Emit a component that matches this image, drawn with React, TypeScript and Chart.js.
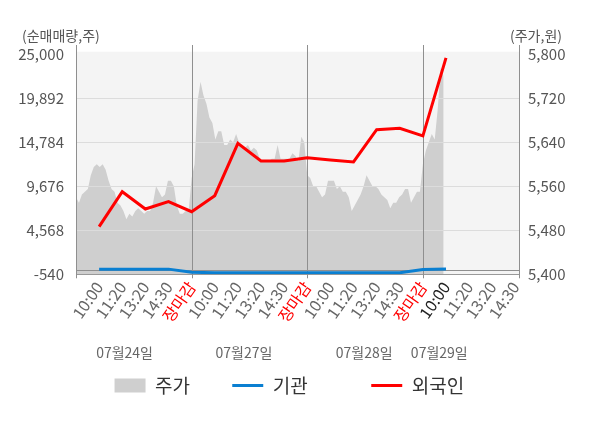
import React, { useEffect, useRef } from 'react';
import { Chart, registerables } from 'chart.js';

Chart.register(...registerables);

const FONT = '"Noto Sans CJK KR", "Noto Sans", sans-serif';

// x-axis tick labels (one per tick, 5 per trading day)
const xTickLabels = [
  '10:00', '11:20', '13:20', '14:30', '장마감',
  '10:00', '11:20', '13:20', '14:30', '장마감',
  '10:00', '11:20', '13:20', '14:30', '장마감',
  '10:00', '11:20', '13:20', '14:30',
];
const dateLabels = ['07월24일', '07월27일', '07월28일', '07월29일'];
const leftTicks = [-540, 4568, 9676, 14784, 19892, 25000];
const rightTicks = [5400, 5480, 5560, 5640, 5720, 5800];

// 주가 (price, intraday samples per day)
const priceDay1 = [5540, 5530, 5545, 5550, 5555, 5580, 5595, 5600, 5595, 5600, 5590, 5570, 5555, 5550, 5530, 5525, 5515, 5500, 5510, 5505, 5515, 5520, 5515, 5510, 5515, 5515, 5530, 5560, 5550, 5540, 5545, 5570, 5570, 5560, 5525, 5510, 5510, 5515, 5515];
const priceDay2 = [5575, 5600, 5715, 5750, 5725, 5710, 5685, 5675, 5645, 5660, 5660, 5635, 5635, 5645, 5640, 5655, 5640, 5630, 5630, 5635, 5625, 5630, 5625, 5610, 5605, 5605, 5605, 5610, 5610, 5635, 5610, 5610, 5610, 5610, 5620, 5615, 5605, 5650, 5640];
const priceDay3 = [5580, 5575, 5560, 5560, 5550, 5540, 5545, 5570, 5570, 5570, 5555, 5560, 5550, 5550, 5540, 5515, 5525, 5535, 5545, 5560, 5580, 5570, 5560, 5560, 5555, 5545, 5540, 5535, 5520, 5530, 5530, 5540, 5545, 5555, 5555, 5530, 5540, 5550, 5550];
const priceDay4 = [5600, 5625, 5640, 5655, 5645, 5700, 5775, 5760];

// 기관 / 외국인 cumulative net buying, one value per tick (10:00 day1 .. 10:00 day4)
const institution = [60, 60, 60, 60, -310, -350, -350, -350, -350, -350, -350, -350, -350, -350, 30, 70];
const foreign = [4990, 9050, 7040, 7890, 6730, 8590, 14670, 12610, 12610, 13000, 12730, 12510, 16250, 16410, 15530, 24580];

const SAMPLES_PER_DAY = 39;
const TICKS_PER_DAY = 5;
const DATE_ANCHORS = [2.1, 7.26, 12.46, 15.71];
const LEGEND_PAD = [' ', '      ', '     '];

const GRAY = '#cfcfcf';
const BLUE = '#0a7fd1';
const RED = '#ff0000';

const decor = {
  id: 'decor',
  beforeDatasetsDraw(chart: any) {
    const { ctx, chartArea: a } = chart;
    ctx.save();
    ctx.fillStyle = '#f4f4f4';
    ctx.fillRect(a.left, a.top - 2.6, a.right - a.left, a.bottom - a.top + 2.6);
    ctx.restore();
  },
  afterDatasetDraw(chart: any, args: any) {
    if (args.index !== 0) return;
    const { ctx, chartArea: a, scales } = chart;
    const ys = scales.y;
    const xs = scales.x;
    ctx.save();
    ctx.lineWidth = 1;
    const hline = (v: number, color: string) => {
      const py = Math.round(ys.getPixelForValue(v)) + 0.5;
      ctx.strokeStyle = color;
      ctx.beginPath();
      ctx.moveTo(a.left, py);
      ctx.lineTo(a.right, py);
      ctx.stroke();
    };
    leftTicks.slice(1, -1).forEach((v) => hline(v, '#dcdcdc'));
    hline(0, '#8f8f8f');
    hline(leftTicks[0], '#999999');
    const vline = (px: number) => {
      const p = Math.round(px) + 0.5;
      ctx.strokeStyle = '#8f8f8f';
      ctx.beginPath();
      ctx.moveTo(p, a.top - 9.3);
      ctx.lineTo(p, a.bottom + 4);
      ctx.stroke();
    };
    vline(a.left);
    vline(a.right - 1);
    [1, 2, 3].forEach((d) => vline(xs.getPixelForValue(d * TICKS_PER_DAY)));
    ctx.restore();
  },
  afterDraw(chart: any) {
    const { ctx, scales } = chart;
    ctx.save();
    ctx.fillStyle = '#555555';
    ctx.font = `14px ${FONT}`;
    ctx.textBaseline = 'middle';
    ctx.textAlign = 'left';
    ctx.fillText('(순매매량,주)', 22, 36);
    ctx.textAlign = 'right';
    ctx.fillText('(주가,원)', 562, 36);
    ctx.font = `14px ${FONT}`;
    ctx.fillStyle = '#666666';
    ctx.textAlign = 'center';
    dateLabels.forEach((t, i) => {
      ctx.fillText(t, scales.x.getPixelForValue(DATE_ANCHORS[i]), 353);
    });
    ctx.restore();
  },
};

export default function App() {
  const ref = useRef<HTMLCanvasElement>(null);
  useEffect(() => {
    document.body.style.margin = '0';
    const days = [priceDay1, priceDay2, priceDay3, priceDay4];
    const priceData: { x: number; y: number }[] = [];
    days.forEach((arr, d) => {
      arr.forEach((v, i) => {
        priceData.push({ x: d * TICKS_PER_DAY + (i * TICKS_PER_DAY) / SAMPLES_PER_DAY, y: v });
      });
    });
    const instData = institution.map((v, i) => ({ x: i + 1, y: v }));
    const forData = foreign.map((v, i) => ({ x: i + 1, y: v }));

    const chart = new Chart(ref.current as HTMLCanvasElement, {
      type: 'line',
      data: {
        datasets: [
          {
            label: '주가',
            data: priceData,
            yAxisID: 'y1',
            borderWidth: 0,
            backgroundColor: GRAY,
            borderColor: GRAY,
            fill: 'start',
            pointRadius: 0,
            order: 3,
          },
          {
            label: '기관',
            data: instData,
            yAxisID: 'y',
            borderWidth: 3,
            borderColor: BLUE,
            backgroundColor: BLUE,
            pointRadius: 0,
            fill: false,
            order: 2,
          },
          {
            label: '외국인',
            data: forData,
            yAxisID: 'y',
            borderWidth: 3,
            borderColor: RED,
            backgroundColor: RED,
            pointRadius: 0,
            fill: false,
            order: 1,
          },
        ],
      },
      options: {
        animation: false,
        responsive: false,
        events: [],
        layout: { padding: { top: 54.3, bottom: 23, left: 0, right: 0 } },
        scales: {
          x: {
            type: 'linear',
            min: 0,
            max: 19.2,
            grid: { display: false, drawTicks: false },
            border: { display: false },
            afterBuildTicks: (s: any) => {
              s.ticks = xTickLabels.map((_, i) => ({ value: i + 1 }));
            },
            afterFit: (s: any) => {
              s.height = 63.7;
            },
            ticks: {
              autoSkip: false,
              minRotation: 55,
              maxRotation: 55,
              padding: 4,
              font: { size: 16, family: FONT },
              color: (c: any) => {
                const i = c.index;
                if (i % TICKS_PER_DAY === 4) return RED;
                if (i === 15) return '#222222';
                return '#666666';
              },
              callback: (_v: any, i: number) => xTickLabels[i],
            },
          },
          y: {
            position: 'left',
            min: leftTicks[0],
            max: leftTicks[leftTicks.length - 1],
            grid: { display: false, drawTicks: false },
            border: { display: false },
            afterBuildTicks: (s: any) => {
              s.ticks = leftTicks.map((v) => ({ value: v }));
            },
            afterFit: (s: any) => {
              s.width = 76;
            },
            ticks: {
              padding: 12,
              color: '#555555',
              font: { size: 15, family: FONT },
              callback: (v: any) => Number(v).toLocaleString('en-US'),
            },
          },
          y1: {
            position: 'right',
            min: rightTicks[0],
            max: rightTicks[rightTicks.length - 1],
            grid: { display: false, drawTicks: false },
            border: { display: false },
            afterBuildTicks: (s: any) => {
              s.ticks = rightTicks.map((v) => ({ value: v }));
            },
            afterFit: (s: any) => {
              s.width = 80;
            },
            ticks: {
              padding: 8,
              color: '#555555',
              font: { size: 15, family: FONT },
              callback: (v: any) => Number(v).toLocaleString('en-US'),
            },
          },
        },
        plugins: {
          tooltip: { enabled: false },
          title: { display: false },
          legend: {
            position: 'bottom',
            labels: {
              usePointStyle: true,
              pointStyleWidth: 31,
              boxHeight: 14,
              padding: 38,
              color: '#333333',
              font: { size: 19, family: FONT },
              generateLabels: (c: any) =>
                c.data.datasets.map((ds: any, i: number) => ({
                  text: ds.label + LEGEND_PAD[i],
                  fillStyle: i === 0 ? GRAY : ds.borderColor,
                  strokeStyle: i === 0 ? GRAY : ds.borderColor,
                  lineWidth: i === 0 ? 0 : 3,
                  pointStyle: i === 0 ? 'rect' : 'line',
                  hidden: false,
                  datasetIndex: i,
                  fontColor: '#333333',
                })),
            },
          },
        },
      },
      plugins: [decor],
    } as any);
    return () => chart.destroy();
  }, []);
  return (
    <div style={{ width: 600, height: 428 }}>
      <canvas ref={ref} width={600} height={428} style={{ display: 'block' }} />
    </div>
  );
}
